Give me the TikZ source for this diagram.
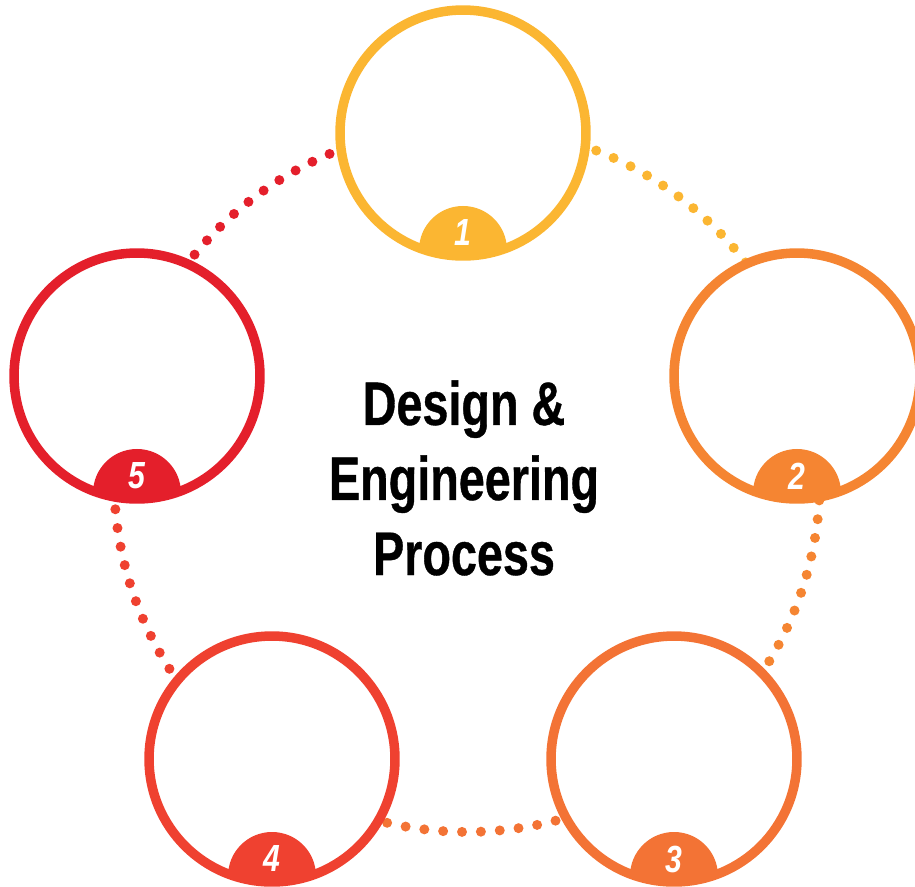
\documentclass[tikz,border=0pt]{standalone}
\usepackage{fontspec}
\usetikzlibrary{positioning}
\newfontfamily\headfont[FakeStretch=0.8]{Liberation Sans}
\newfontfamily\titlefont[FakeStretch=0.76,FakeBold=0.6]{Liberation Sans}

\definecolor{cOne}{HTML}{FBB632}
\definecolor{cTwo}{HTML}{F58532}
\definecolor{cThree}{HTML}{F37335}
\definecolor{cFour}{HTML}{EF4130}
\definecolor{cFive}{HTML}{E41F2B}

\begin{document}
\begin{tikzpicture}[
      x = 0.02cm, % one pixel
      y = -0.02cm, % pixels count downwards
      ring/.style = {circle, draw = #1, fill = white, line width = 0.19cm,
        minimum size = 4.92cm, inner sep = 0pt,
        path picture = {\fill[#1] ([yshift=-2.34cm]path picture bounding box.center) circle (0.88cm);}},
      num/.style = {text = white, inner sep = 0pt,
        font = \headfont\bfseries\itshape\fontsize{21.5}{24}\selectfont},
      title/.style = {align = center, inner sep = 0pt,
        font = \titlefont\bfseries\fontsize{35}{42.7}\selectfont},
      dotline/.style = {draw = #1, line width = 0.2cm, line cap = round,
        dash pattern = on 0pt off 0.378cm}
      ]

      \useasboundingbox (0,0) rectangle (915,886);

      \coordinate (o) at (467,479);

      % dotted ring behind the circles
      \draw[dotline=cOne] ([shift={(90:7.06cm)}]o) arc[start angle=90, end angle=18, radius=7.06cm];
      \draw[dotline=cTwo] ([shift={(18:7.06cm)}]o) arc[start angle=18, end angle=-54, radius=7.06cm];
      \draw[dotline=cThree] ([shift={(-54:7.06cm)}]o) arc[start angle=-54, end angle=-126, radius=7.06cm];
      \draw[dotline=cFour] ([shift={(-126:7.06cm)}]o) arc[start angle=-126, end angle=-198, radius=7.06cm];
      \draw[dotline=cFive] ([shift={(162:7.06cm)}]o) arc[start angle=162, end angle=90, radius=7.06cm];

      \node[ring=cOne] (s1) at (463,133) {};
      \node[ring=cTwo] (s2) at (797,376) {};
      \node[ring=cThree] (s3) at (674,759) {};
      \node[ring=cFour] (s4) at (272,759) {};
      \node[ring=cFive] (s5) at (137,376) {};

      \node[num] (n1) at ([yshift=-2cm]s1.center) {1};
      \node[num] (n2) at ([yshift=-2cm]s2.center) {2};
      \node[num] (n3) at ([yshift=-2cm]s3.center) {3};
      \node[num] (n4) at ([yshift=-2cm]s4.center) {4};
      \node[num] (n5) at ([yshift=-2cm]s5.center) {5};

      \node[title] (head) at (464,478) {Design \&\\Engineering\\Process};

    \end{tikzpicture}
\end{document}
